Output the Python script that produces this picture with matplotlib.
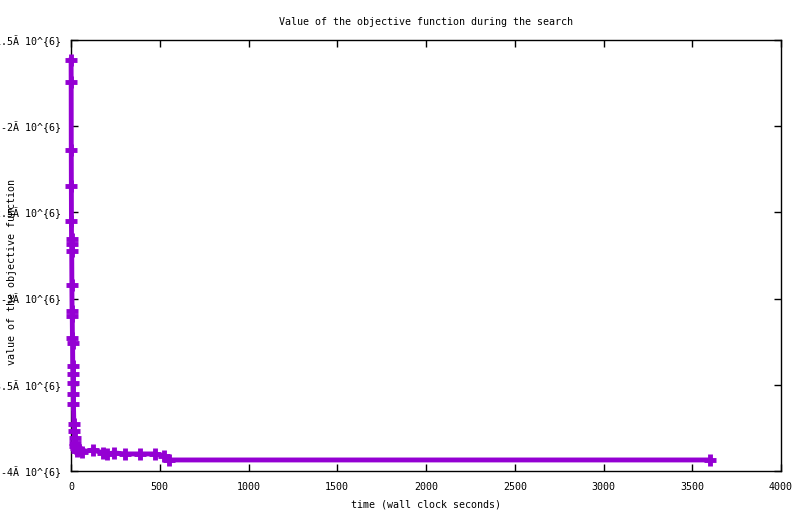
import numpy as np
import matplotlib
matplotlib.use("Agg")
import matplotlib.pyplot as plt
from matplotlib.ticker import FixedLocator

# search trace: wall clock seconds vs objective value
times = [0.5, 1, 1.5, 2, 2.5, 3, 3.5, 4, 5, 6, 7, 8, 9, 10, 11, 12, 13,
         14, 16, 18, 20, 22, 25, 28, 32, 36, 45, 60, 124, 180, 203, 242,
         304, 389, 473, 524, 552, 3600]
values = [-1.616e6, -1.744e6, -2.14e6, -2.349e6, -2.547e6, -2.657e6,
          -2.686e6, -2.721e6, -2.924e6, -3.07e6, -3.099e6, -3.227e6,
          -3.256e6, -3.39e6, -3.436e6, -3.488e6, -3.552e6, -3.61e6,
          -3.727e6, -3.767e6, -3.808e6, -3.837e6, -3.855e6, -3.866e6,
          -3.872e6, -3.884e6, -3.878e6, -3.89e6, -3.878e6, -3.895e6,
          -3.901e6, -3.895e6, -3.901e6, -3.901e6, -3.901e6, -3.913e6,
          -3.936e6, -3.936e6]

yticks = [-4e6, -3.5e6, -3e6, -2.5e6, -2e6, -1.5e6]
ylabels = ['-4\u00c3 10^{6}', '-3.5\u00c3 10^{6}', '-3\u00c3 10^{6}',
           '-2.5\u00c3 10^{6}', '-2\u00c3 10^{6}', '-1.5\u00c3 10^{6}']
xticks = [0, 500, 1000, 1500, 2000, 2500, 3000, 3500, 4000]

plt.rcParams['font.family'] = ['DejaVu Sans Mono']
fs = 7.2

fig = plt.figure(figsize=(8, 5.14), dpi=100)
ax = fig.add_axes([71/800, 1 - 471/514, 710/800, 431/514])

ax.plot(times, values, color='#9400d3', lw=3.5, marker='+', ms=9, mew=3.5,
        clip_on=False, zorder=3)

ax.set_xlim(0, 4000)
ax.set_ylim(-4e6, -1.5e6)
ax.xaxis.set_major_locator(FixedLocator(xticks))
ax.set_xticklabels([str(t) for t in xticks], fontsize=fs)
ax.yaxis.set_major_locator(FixedLocator(yticks))
ax.set_yticklabels(ylabels, fontsize=fs)
ax.tick_params(direction='in', length=5, width=1, top=True, right=True)
ax.tick_params(axis='x', pad=8)
ax.tick_params(axis='y', pad=7)

for sp in ax.spines.values():
    sp.set_linewidth(1)

ax.set_title('Value of the objective function during the search',
             fontsize=fs, pad=11)
ax.set_xlabel('time (wall clock seconds)', fontsize=fs, labelpad=5)
fig.text(12/800, 1 - 272/514, 'value of the objective function',
         rotation=90, ha='center', va='center', fontsize=fs)

fig.savefig('out.png', dpi=100)
